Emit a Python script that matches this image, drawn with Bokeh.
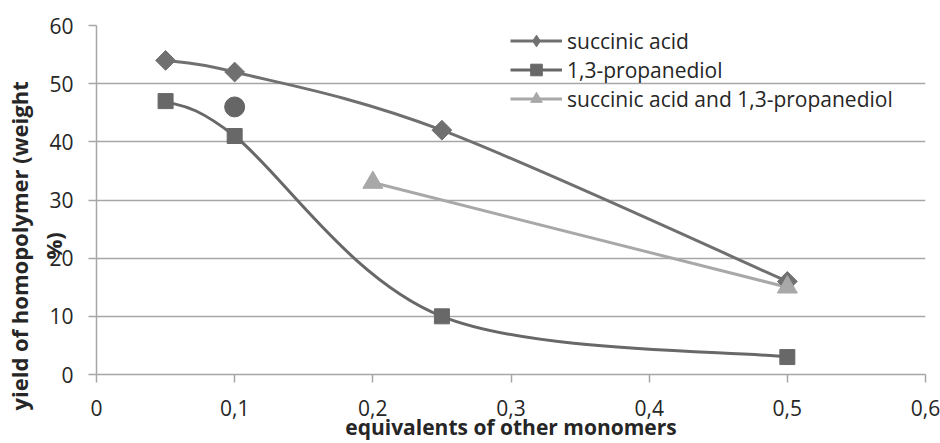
import numpy as np
from bokeh.plotting import figure
from bokeh.models import FixedTicker, Legend, LegendItem, LinearAxis, ColumnDataSource
from bokeh.embed import file_html
from bokeh.resources import INLINE

# ---- data ----
x_ticks = [0, 0.1, 0.2, 0.3, 0.4, 0.5, 0.6]
x_tick_labels = ["0", "0,1", "0,2", "0,3", "0,4", "0,5", "0,6"]
y_ticks = [0, 10, 20, 30, 40, 50, 60]

succ_name = "succinic acid"
succ_x = [0.05, 0.1, 0.25, 0.5]
succ_y = [54, 52, 42, 16]

prop_name = "1,3-propanediol"
prop_x = [0.05, 0.1, 0.25, 0.5]
prop_y = [47, 41, 10, 3]

both_name = "succinic acid and 1,3-propanediol"
both_x = [0.2, 0.5]
both_y = [33, 15]

extra_x = [0.1]
extra_y = [46]

x_title = "equivalents of other monomers"
y_title_1 = "yield of homopolymer (weight"
y_title_2 = "%)"
# where (in y units) the centre of the two y-title lines sits
y_title_at = 22.1


def smooth_segments(xs, ys):
    """Bezier control points (Catmull-Rom style, like spreadsheet smoothed lines)."""
    px = np.asarray(xs, float)
    py = np.asarray(ys, float)
    n = len(px)
    d = dict(x0=[], y0=[], x1=[], y1=[], cx0=[], cy0=[], cx1=[], cy1=[])
    for i in range(n - 1):
        im1 = max(i - 1, 0)
        ip2 = min(i + 2, n - 1)
        d["x0"].append(px[i]); d["y0"].append(py[i])
        d["x1"].append(px[i + 1]); d["y1"].append(py[i + 1])
        d["cx0"].append(px[i] + (px[i + 1] - px[im1]) / 6)
        d["cy0"].append(py[i] + (py[i + 1] - py[im1]) / 6)
        d["cx1"].append(px[i + 1] - (px[ip2] - px[i]) / 6)
        d["cy1"].append(py[i + 1] - (py[ip2] - py[i]) / 6)
    return ColumnDataSource(d)


FONT = "Open Sans"
GRID = "#a6a6a6"
C_SUCC = "#707070"
C_PROP = "#686868"
C_BOTH = "#a8a8a8"
TXT = "#262626"

p = figure(width=940, height=443, x_range=(0, 0.6), y_range=(0, 60),
           output_backend="svg", toolbar_location=None,
           min_border_left=96, min_border_right=15, min_border_top=25,
           min_border_bottom=68)
p.outline_line_color = None
p.background_fill_color = "white"
p.border_fill_color = "white"

p.xgrid.grid_line_color = None
p.ygrid.grid_line_color = GRID
p.ygrid.grid_line_width = 1.5
p.ygrid.ticker = FixedTicker(ticks=y_ticks)

p.xaxis.ticker = FixedTicker(ticks=x_ticks)
p.xaxis.major_label_overrides = dict(zip(x_ticks, x_tick_labels))
p.yaxis.ticker = FixedTicker(ticks=y_ticks)

for ax in (p.xaxis[0], p.yaxis[0]):
    ax.axis_line_color = GRID
    ax.axis_line_width = 1.5
    ax.major_tick_line_color = GRID
    ax.major_tick_line_width = 1.5
    ax.major_tick_in = 0
    ax.major_tick_out = 8
    ax.minor_tick_line_color = None
    ax.major_label_text_font = FONT
    ax.major_label_text_font_size = "21px"
    ax.major_label_text_color = TXT
p.xaxis.major_label_standoff = 17
p.yaxis.major_label_standoff = 15

p.xaxis.axis_label = x_title
p.xaxis.axis_label_text_font = FONT
p.xaxis.axis_label_text_font_style = "bold"
p.xaxis.axis_label_text_font_size = "21px"
p.xaxis.axis_label_text_color = TXT
p.xaxis.axis_label_standoff = -6


def title_axis(text, at, standoff):
    ax = LinearAxis(ticker=FixedTicker(ticks=[at]),
                    major_label_overrides={at: text},
                    major_label_orientation="vertical",
                    major_label_standoff=standoff,
                    major_tick_in=0, major_tick_out=0,
                    axis_line_color=None, major_tick_line_color=None,
                    minor_tick_line_color=None,
                    major_label_text_font=FONT,
                    major_label_text_font_style="bold",
                    major_label_text_font_size="22px",
                    major_label_text_color=TXT)
    p.add_layout(ax, "left")
    return ax


# y-axis title: "%)" line overlaps the tick labels as in the original
title_axis(y_title_2, y_title_at, -22)
title_axis(y_title_1, y_title_at, 1)

# series
succ_curve = p.bezier(x0="x0", y0="y0", x1="x1", y1="y1", cx0="cx0", cy0="cy0",
                      cx1="cx1", cy1="cy1", source=smooth_segments(succ_x, succ_y),
                      line_color=C_SUCC, line_width=3)
prop_curve = p.bezier(x0="x0", y0="y0", x1="x1", y1="y1", cx0="cx0", cy0="cy0",
                      cx1="cx1", cy1="cy1", source=smooth_segments(prop_x, prop_y),
                      line_color=C_PROP, line_width=3)
both_line = p.line(both_x, both_y, line_color=C_BOTH, line_width=3)

succ_pts = p.scatter(succ_x, succ_y, marker="square", size=14, angle=np.pi / 4,
                     fill_color=C_SUCC, line_color=C_SUCC)
# legend-only glyph for the diamond key (legend markers are drawn unrotated)
succ_key = p.scatter(succ_x, succ_y, marker="diamond", size=14,
                     fill_color=C_SUCC, line_color=C_SUCC, visible=False)
prop_pts = p.scatter(prop_x, prop_y, marker="square", size=15,
                     fill_color=C_PROP, line_color=C_PROP)
both_pts = p.scatter(both_x, both_y, marker="triangle", size=20,
                     fill_color=C_BOTH, line_color=C_BOTH)
p.scatter(extra_x, extra_y, marker="circle", size=20,
          fill_color="#666666", line_color="#666666")

legend = Legend(items=[
    LegendItem(label=succ_name, renderers=[succ_curve, succ_key]),
    LegendItem(label=prop_name, renderers=[prop_curve, prop_pts]),
    LegendItem(label=both_name, renderers=[both_line, both_pts]),
], location=(414, 261))
legend.border_line_color = None
legend.background_fill_alpha = 0
legend.padding = 0
legend.margin = 0
legend.spacing = 0
legend.glyph_width = 52
legend.glyph_height = 29
legend.label_height = 20
legend.label_standoff = 5
legend.label_text_font = FONT
legend.label_text_font_size = "21px"
legend.label_text_color = TXT
p.add_layout(legend)

open("out.html", "w").write(file_html(p, INLINE))
